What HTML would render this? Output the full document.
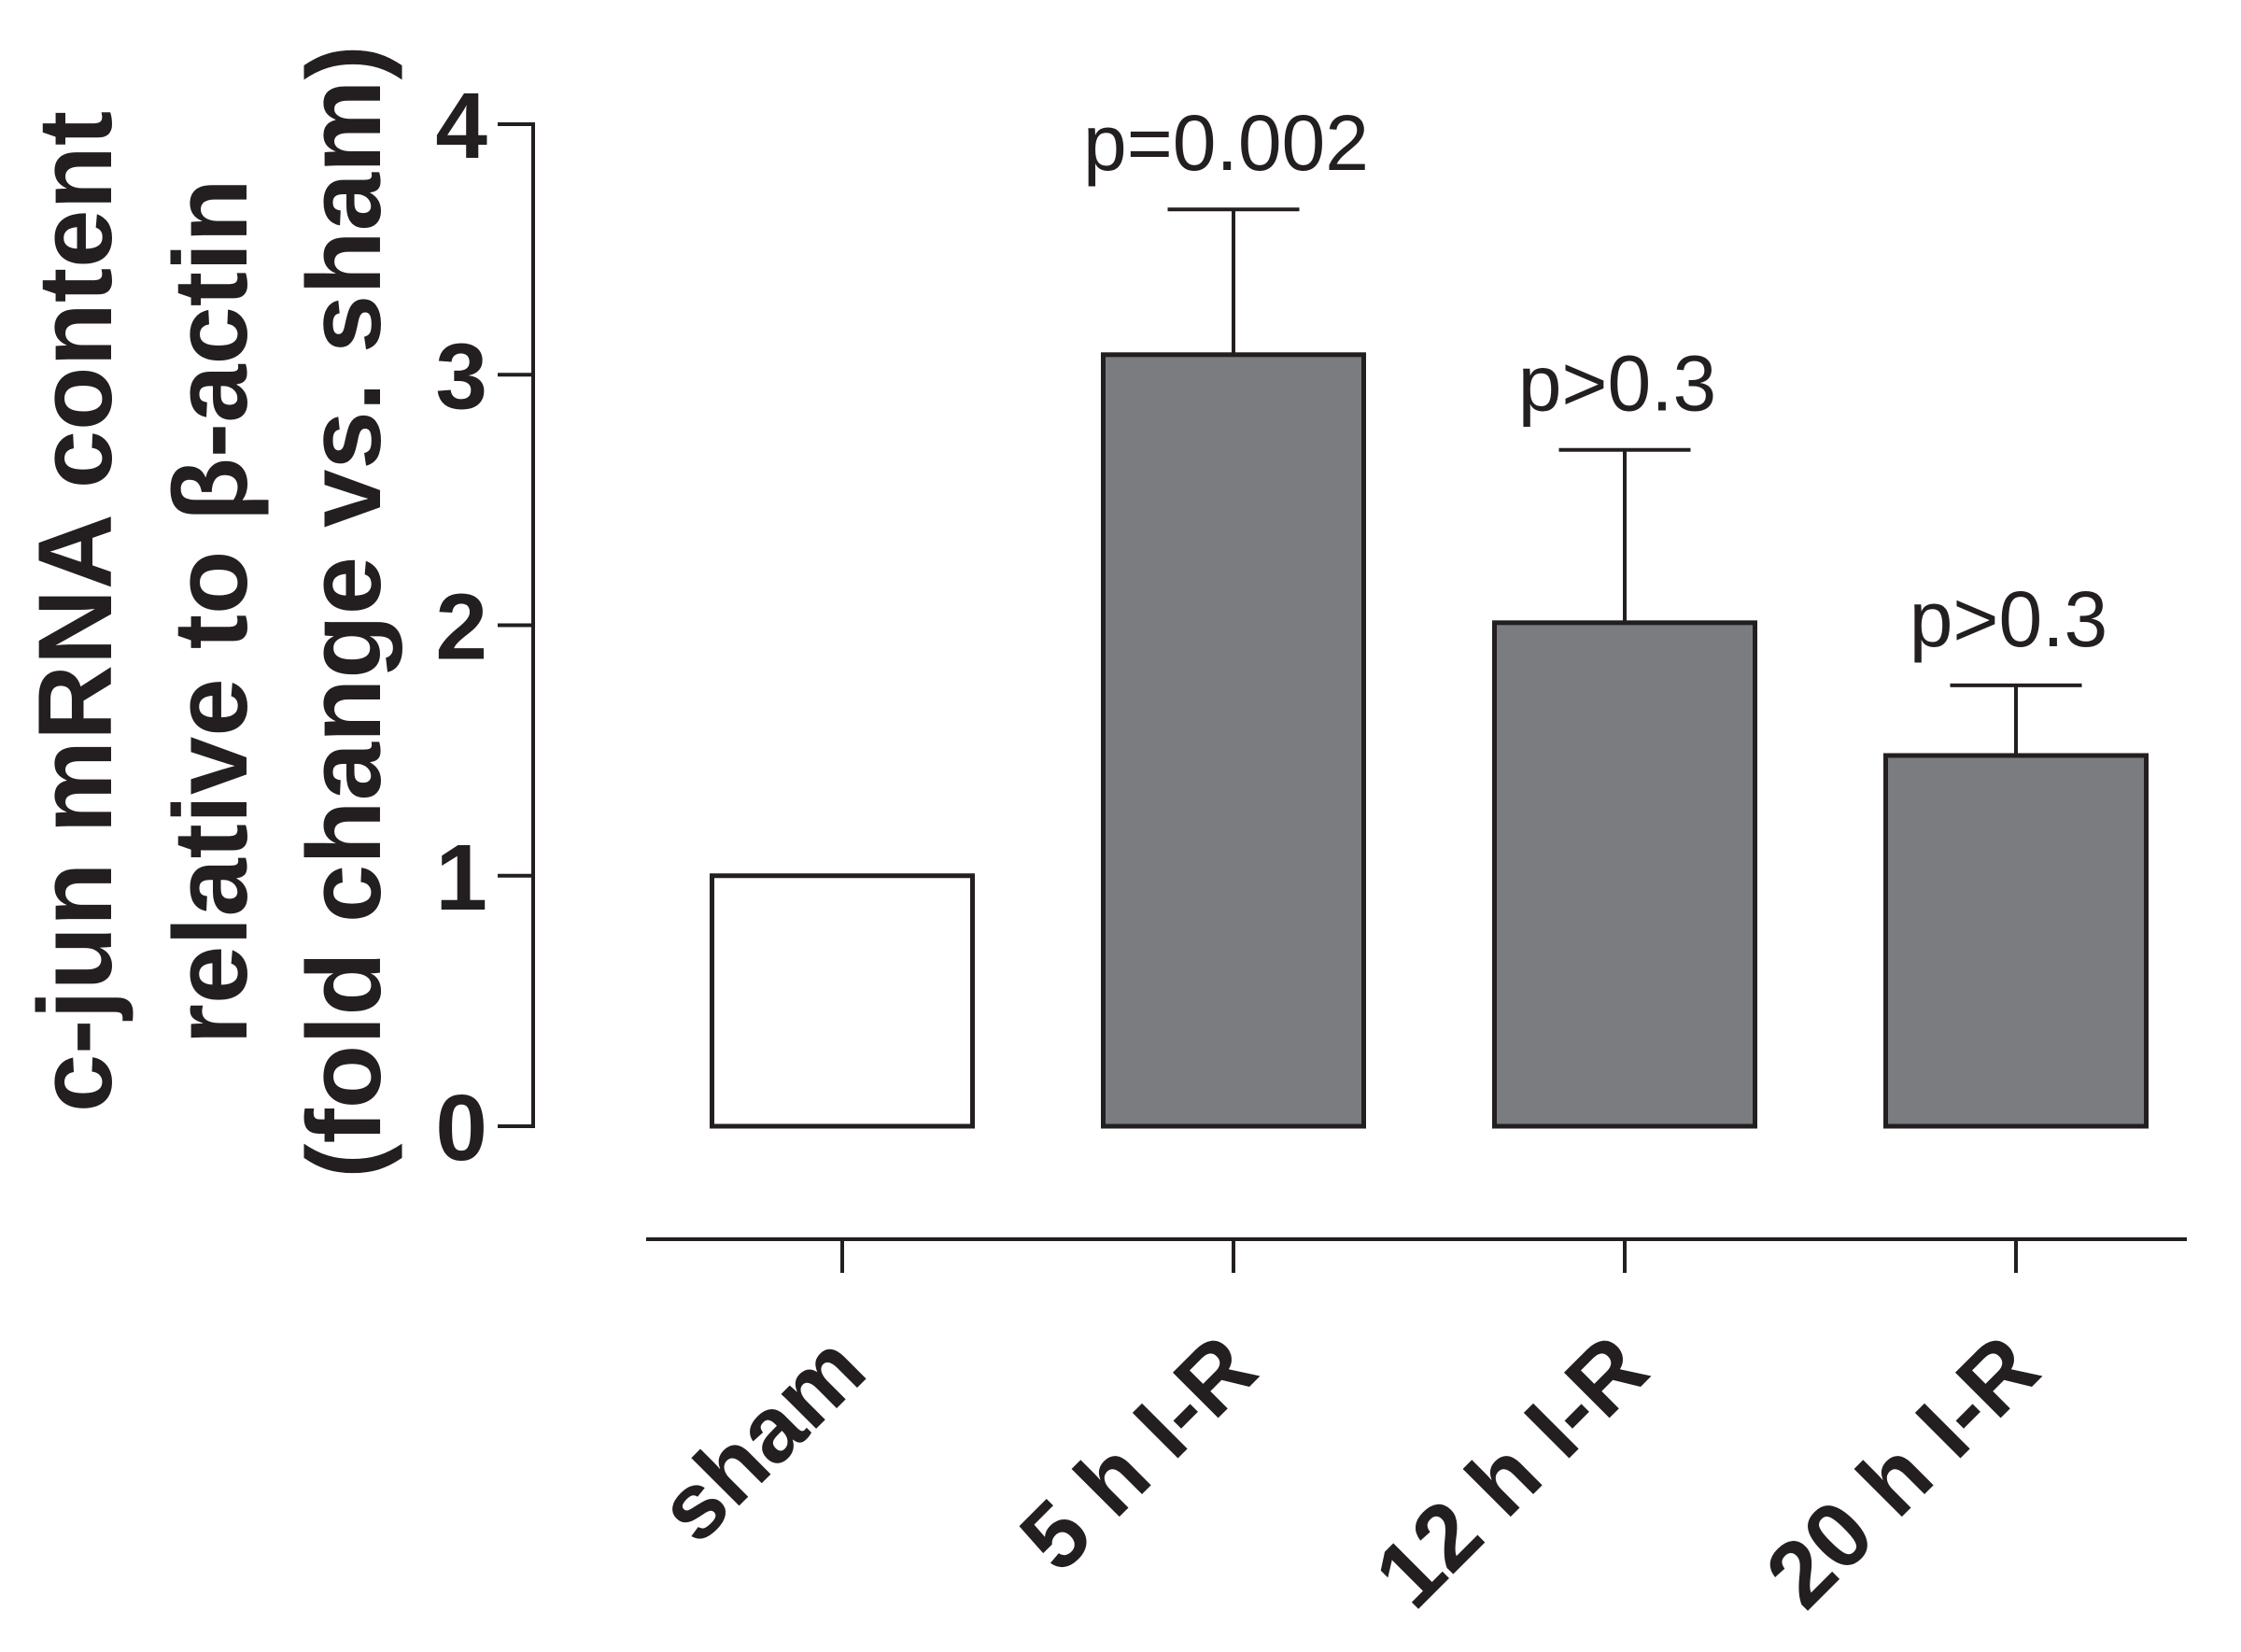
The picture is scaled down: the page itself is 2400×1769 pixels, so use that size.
<!DOCTYPE html>
<html><head><meta charset="utf-8"><style>
html,body{margin:0;padding:0;background:#fff;}
svg{display:block;}
text{font-family:"Liberation Sans",Arial,sans-serif;fill:#231f20;}
</style></head><body>
<svg id="chart" width="2400" height="1769" viewBox="0 0 2400 1769">
<g id="yTitle" font-weight="bold" font-size="112" text-anchor="middle">
<text transform="translate(119,655) rotate(-90)">c-jun mRNA content</text>
<text transform="translate(264,655) rotate(-90)">relative to β-actin</text>
<text transform="translate(407,655) rotate(-90)">(fold change vs. sham)</text>
</g>
<g id="yAxis"></g>
<g id="xAxis"></g>
<g id="bars"></g>
</svg>
<script>
const categories = ["sham", "5 h I-R", "12 h I-R", "20 h I-R"];
const means = [1.0, 3.08, 2.01, 1.48];
const errors = [0, 0.58, 0.69, 0.28];
const pLabels = ["", "p=0.002", "p>0.3", "p>0.3"];
const fills = ["#ffffff", "#7b7c7f", "#7b7c7f", "#7b7c7f"];
const yTicks = [0, 1, 2, 3, 4];

const NS = "http://www.w3.org/2000/svg";
const y0 = 1206, yTop = 133, yMax = 4;
const yScale = v => y0 - (y0 - yTop) * v / yMax;
const xStart = 902, xStep = 419;
const xScale = i => xStart + i * xStep;
const barW = 279, capW = 141;
function mk(tag, attrs, parent, txt) {
  const e = document.createElementNS(NS, tag);
  for (const k in attrs) e.setAttribute(k, attrs[k]);
  if (txt !== undefined) e.textContent = txt;
  parent.appendChild(e);
  return e;
}
const yAxis = document.getElementById("yAxis");
const axisLine = mk("line", {x1: 571, y1: yScale(yMax), x2: 571, y2: yScale(0), stroke: "#231f20", "stroke-width": 4}, yAxis);


yTicks.forEach(t => {
  const l = mk("line", {x1: 533, y1: yScale(t), x2: 573, y2: yScale(t), stroke: "#231f20", "stroke-width": 4}, yAxis);
  
  
  const tx = mk("text", {x: 522, y: yScale(t) + 36, "text-anchor": "end", "font-size": 100, "font-weight": "bold"}, yAxis, String(t));
  
  
});
const xAxis = document.getElementById("xAxis");
const xl = mk("line", {x1: 692, y1: 1327, x2: 2342, y2: 1327, stroke: "#231f20", "stroke-width": 4}, xAxis);


const bars = document.getElementById("bars");
categories.forEach((c, i) => {
  const cx = xScale(i);
  const tk = mk("line", {x1: cx, y1: 1327, x2: cx, y2: 1363, stroke: "#231f20", "stroke-width": 4}, xAxis);
  
  
  const lb = mk("text", {transform: `translate(${cx + 30},1472) rotate(-45)`, "text-anchor": "end", "font-size": 100, "font-weight": "bold"}, xAxis, c);
  
  
  const top = yScale(means[i]);
  const r = mk("rect", {x: cx - barW / 2, y: top, width: barW, height: yScale(0) - top, fill: fills[i], stroke: "#231f20", "stroke-width": 5}, bars);
  
  
  if (errors[i] > 0) {
    const et = yScale(means[i] + errors[i]);
    const ev = mk("line", {x1: cx, y1: top, x2: cx, y2: et, stroke: "#231f20", "stroke-width": 4}, bars);
    
    
    const ec = mk("line", {x1: cx - capW / 2, y1: et, x2: cx + capW / 2, y2: et, stroke: "#231f20", "stroke-width": 4}, bars);
    
    
    const pt = mk("text", {x: cx - 8, y: et - 42, "text-anchor": "middle", "font-size": 84}, bars, pLabels[i]);
    
    
  }
});
</script>
</body></html>
